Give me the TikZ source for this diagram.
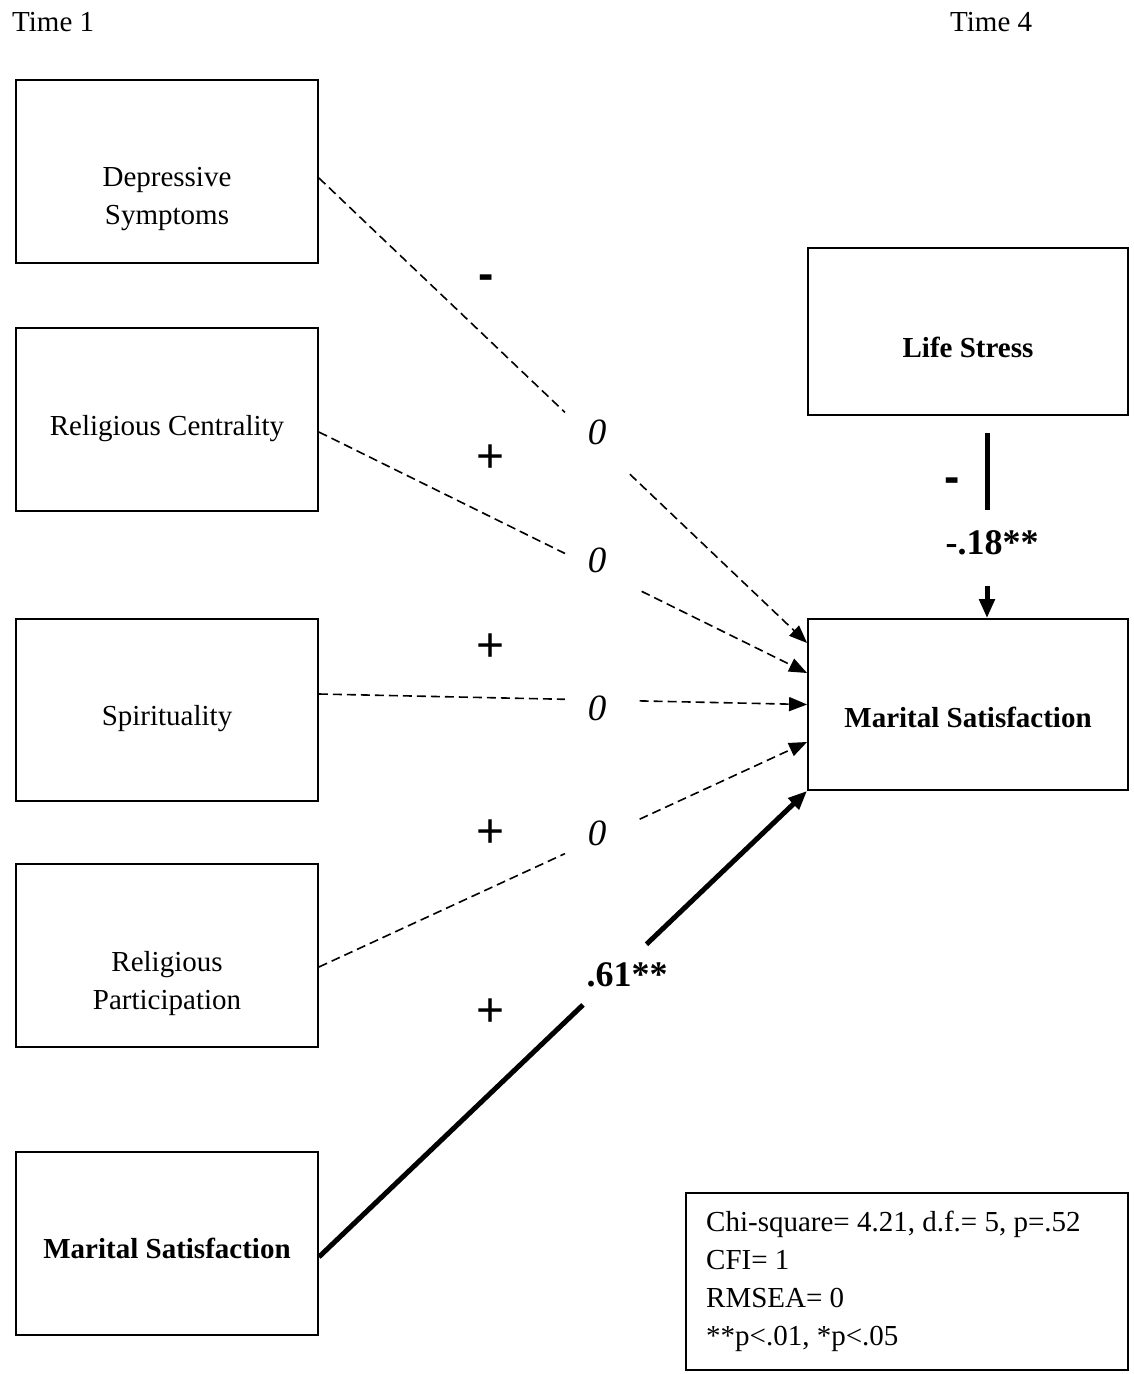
\documentclass[tikz,border=0pt]{standalone}
\usepackage{fontspec}
\setmainfont{Liberation Serif}
\newfontfamily\sansf{Liberation Sans}
\usetikzlibrary{arrows.meta,calc}

\begin{document}
\begin{tikzpicture}[x=1pt,y=-1pt,
  box/.style={draw, line width=1.8pt, inner sep=0pt},
  lbl/.style={font=\fontsize{29}{38}\selectfont, align=center, inner sep=0pt},
  coef/.style={font=\fontsize{36}{40}\selectfont\bfseries, inner sep=0pt},
  zero/.style={font=\fontsize{37}{40}\selectfont\itshape, inner sep=0pt},
  sign/.style={font=\sansf\fontsize{48}{50}\selectfont, inner sep=0pt},
  minus/.style={font=\sansf\bfseries\fontsize{46}{50}\selectfont, inner sep=0pt},
  dseg/.style={line width=1.6pt, dash pattern=on 9pt off 5pt},
  darrow/.style={dseg, -{Triangle[length=18pt,width=14pt]}},
  tseg/.style={line width=5pt},
  tarrow/.style={tseg, -{Triangle[length=19pt,width=15pt]}}]

\useasboundingbox (0,0) rectangle (1134,1374);

% time labels
\node[lbl, anchor=base west] (t1) at (12,31) {Time 1};
\node[lbl, anchor=base west] (t4) at (950,31) {Time 4};

% Time 1 predictors
\node[box, minimum width=302pt, minimum height=183pt] (dep)  at (167,171.5) {};
\node[box, minimum width=302pt, minimum height=183pt] (relc) at (167,419.5) {};
\node[box, minimum width=302pt, minimum height=182pt] (spir) at (167,710) {};
\node[box, minimum width=302pt, minimum height=183pt] (relp) at (167,955.5) {};
\node[box, minimum width=302pt, minimum height=183pt] (ms1)  at (167,1243.5) {};

\node[lbl] (depT)  at (167,199) {Depressive\\Symptoms};
\node[lbl] (relcT) at (167,429) {Religious Centrality};
\node[lbl] (spirT) at (167,719) {Spirituality};
\node[lbl] (relpT) at (167,984) {Religious\\Participation};
\node[lbl, font=\fontsize{29}{38}\selectfont\bfseries] (ms1T) at (167,1248) {Marital Satisfaction};

% Time 4 variables
\node[box, minimum width=320pt, minimum height=167pt] (ls)  at (968,331.5) {};
\node[box, minimum width=320pt, minimum height=171pt] (ms4) at (968,704.5) {};
\node[lbl, font=\fontsize{29}{38}\selectfont\bfseries] (lsT)  at (968,347) {Life Stress};
\node[lbl, font=\fontsize{29}{38}\selectfont\bfseries] (ms4T) at (968,717) {Marital Satisfaction};

% fit statistics
\node[box, minimum width=442pt, minimum height=177pt] (fit) at (907,1281.5) {};
\node[lbl, align=left, anchor=north west] (fitT) at (706,1211)
  {Chi-square= 4.21, d.f.= 5, p=.52\\CFI= 1\\RMSEA= 0\\**p<.01, *p<.05};

% end points of the paths
\coordinate (dO)  at ([yshift=-6.5pt]dep.east);
\coordinate (cO)  at ([yshift=-12.5pt]relc.east);
\coordinate (sO)  at ([yshift=16pt]spir.east);
\coordinate (pO)  at ([yshift=-11.5pt]relp.east);
\coordinate (mO)  at ([yshift=-13.5pt]ms1.east);
\coordinate (dI)  at ([yshift=61.5pt]ms4.west);
\coordinate (cI)  at ([yshift=31.5pt]ms4.west);
\coordinate (sI)  at (ms4.west);
\coordinate (pI)  at ([yshift=-37.5pt]ms4.west);
\coordinate (mI)  at (ms4.south west);
\coordinate (lO)  at ([xshift=19pt,yshift=-17pt]ls.south);
\coordinate (lI)  at (ms4.north -| lO);

% dashed paths, broken where the estimate is printed
\draw[dseg]   (dO) -- ($(dO)!0.504!(dI)$);
\draw[darrow] ($(dO)!0.637!(dI)$) -- (dI);
\draw[dseg]   (cO) -- ($(cO)!0.504!(cI)$);
\draw[darrow] ($(cO)!0.661!(cI)$) -- (cI);
\draw[dseg]   (sO) -- ($(sO)!0.504!(sI)$);
\draw[darrow] ($(sO)!0.657!(sI)$) -- (sI);
\draw[dseg]   (pO) -- ($(pO)!0.504!(pI)$);
\draw[darrow] ($(pO)!0.657!(pI)$) -- (pI);

% significant paths
\draw[tseg]   (mO) -- ($(mO)!0.541!(mI)$);
\draw[tarrow] ($(mO)!0.671!(mI)$) -- (mI);
\draw[tseg]   (lO) -- ($(lO)!0.417!(lI)$);
\draw[tarrow] ($(lO)!0.824!(lI)$) -- (lI);

% estimates
\node[zero] (z1) at (597,432) {0};
\node[zero] (z2) at (597,560) {0};
\node[zero] (z3) at (597,708) {0};
\node[zero] (z4) at (597,833) {0};
\node[coef] (b1) at (627,975) {.61**};
\node[coef] (b2) at (992,543) {-.18**};

% hypothesised signs
\node[minus] (h1) at (486,282) {-};
\node[sign]  (h2) at (491,459) {+};
\node[sign]  (h3) at (491,648) {+};
\node[sign]  (h4) at (491,834) {+};
\node[sign]  (h5) at (491,1013) {+};
\node[minus] (h6) at (952,485) {-};
\end{tikzpicture}
\end{document}
